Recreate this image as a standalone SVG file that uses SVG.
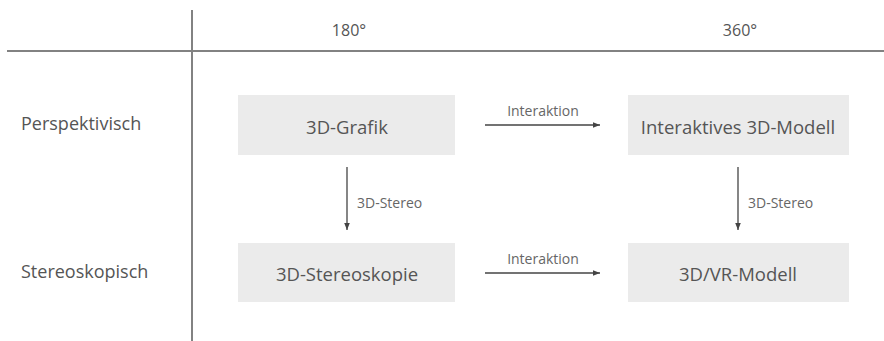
<svg xmlns="http://www.w3.org/2000/svg" width="884" height="341" viewBox="0 0 884 341">
  <defs>
    <marker id="arrow" viewBox="0 0 10 10" refX="10" refY="5" markerWidth="7" markerHeight="7" orient="auto" markerUnits="userSpaceOnUse">
      <path d="M0,1 L10,5 L0,9 z" fill="#444"/>
    </marker>
    <style>
      text { font-family: "Open Sans", "Noto Sans", "Liberation Sans", sans-serif; fill: #555; }
      .grid { stroke: #828282; stroke-width: 2; }
      .box { fill: #ebebeb; }
      .node-label { font-size: 18.5px; text-anchor: middle; dominant-baseline: central; }
      .row-label { font-size: 18px; dominant-baseline: central; }
      .col-label { font-size: 16px; text-anchor: middle; dominant-baseline: central; }
      .edge { stroke: #444; stroke-width: 1.3; fill: none; marker-end: url(#arrow); }
      .edge-label { font-size: 14px; fill: #666; }
    </style>
  </defs>

  <rect width="884" height="341" fill="#ffffff"/>

  <!-- table grid -->
  <g id="grid">
    <line class="grid" x1="7" y1="51" x2="884" y2="51"/>
    <line class="grid" x1="192" y1="10" x2="192" y2="341"/>
  </g>

  <!-- column and row headings -->
  <g id="headings">
    <text class="col-label" x="349" y="30">180°</text>
    <text class="col-label" x="740" y="30">360°</text>
    <text class="row-label" x="21" y="123">Perspektivisch</text>
    <text class="row-label" x="21" y="271">Stereoskopisch</text>
  </g>

  <g id="node-grafik">
    <rect class="box" x="238" y="95" width="217" height="60"/>
    <text class="node-label" x="347" y="126">3D-Grafik</text>
  </g>

  <g id="node-interaktiv">
    <rect class="box" x="628" y="95" width="221" height="60"/>
    <text class="node-label" x="738" y="126">Interaktives 3D-Modell</text>
  </g>

  <g id="node-stereoskopie">
    <rect class="box" x="238" y="243" width="217" height="59"/>
    <text class="node-label" x="347" y="273">3D-Stereoskopie</text>
  </g>

  <g id="node-vr">
    <rect class="box" x="628" y="243" width="221" height="59"/>
    <text class="node-label" x="738" y="273">3D/VR-Modell</text>
  </g>

  <!-- connectors -->
  <g id="connectors">
    <line class="edge" x1="485" y1="125" x2="600" y2="125"/>
    <text class="edge-label" x="543" y="116" text-anchor="middle">Interaktion</text>

    <line class="edge" x1="485" y1="273" x2="600" y2="273"/>
    <text class="edge-label" x="543" y="264" text-anchor="middle">Interaktion</text>

    <line class="edge" x1="347" y1="167" x2="347" y2="230"/>
    <text class="edge-label" x="357" y="208">3D-Stereo</text>

    <line class="edge" x1="738" y1="167" x2="738" y2="230"/>
    <text class="edge-label" x="748" y="208">3D-Stereo</text>
  </g>
</svg>
